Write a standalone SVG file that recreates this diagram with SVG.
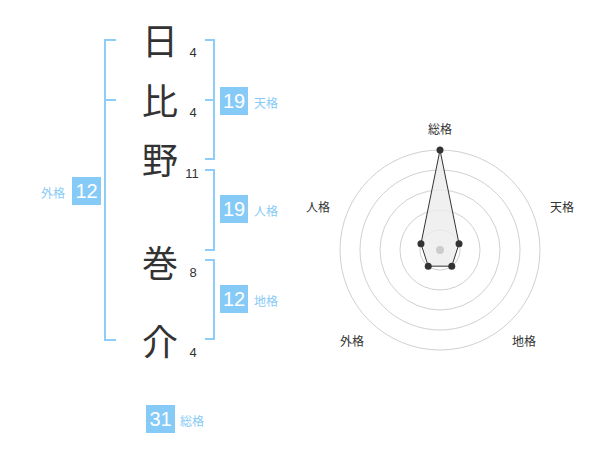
<svg xmlns="http://www.w3.org/2000/svg" width="600" height="470" viewBox="0 0 600 470">
<style>
.k{font-family:"Noto Sans CJK JP","Noto Sans",sans-serif;font-size:36px;fill:#333;text-anchor:middle}
.n{font-family:"Liberation Sans",Arial,sans-serif;font-size:13px;fill:#333;text-anchor:middle}
.br{fill:none;stroke:#8dcdf8;stroke-width:2}
.bx{fill:#86caf7}
.bn{font-family:"Liberation Sans",Arial,sans-serif;font-size:20px;fill:#fff;text-anchor:middle}
.lb{font-family:"Noto Sans CJK JP",sans-serif;font-size:12px;fill:#86caf7}
.rl{font-family:"Noto Sans CJK JP",sans-serif;font-size:12px;fill:#333;text-anchor:middle}
.ring{fill:none;stroke:#d0d0d0;stroke-width:1}
</style>
<rect width="600" height="470" fill="#fff"/>
<g id="chars">
<g id="c1"><text class="k" x="160" y="55">日</text><text class="n" x="193" y="57">4</text></g>
<g id="c2"><text class="k" x="160" y="115">比</text><text class="n" x="193" y="117">4</text></g>
<g id="c3"><text class="k" x="160" y="174">野</text><text class="n" x="192" y="178">11</text></g>
<g id="c4"><text class="k" x="160" y="277">巻</text><text class="n" x="193" y="277">8</text></g>
<g id="c5"><text class="k" x="160" y="356">介</text><text class="n" x="193" y="357">4</text></g>
</g>
<g id="connectors">
<path class="br" d="M116,40 H105 V340 H116 M105,100 H116"/>
<path class="br" d="M205,40 H214 V159 H205 M214,100 H205"/>
<path class="br" d="M205,170 H214 V250 H205"/>
<path class="br" d="M205,260 H214 V339 H205"/>
</g>
<g id="gaikaku"><rect class="bx" x="72" y="177" width="29" height="28"/><text class="bn" x="86.5" y="198">12</text><text class="lb" x="41" y="198">外格</text></g>
<g id="tenkaku"><rect class="bx" x="220" y="87" width="28" height="28"/><text class="bn" x="234" y="108">19</text><text class="lb" x="254" y="108">天格</text></g>
<g id="jinkaku"><rect class="bx" x="220" y="195" width="28" height="28"/><text class="bn" x="234" y="216">19</text><text class="lb" x="254" y="216">人格</text></g>
<g id="chikaku"><rect class="bx" x="220" y="285" width="28" height="28"/><text class="bn" x="234" y="306">12</text><text class="lb" x="254" y="306">地格</text></g>
<g id="soukaku"><rect class="bx" x="146" y="405" width="29" height="28"/><text class="bn" x="160.5" y="426">31</text><text class="lb" x="180" y="426">総格</text></g>
<g id="radar">
<circle class="ring" cx="440" cy="250" r="20"/>
<circle class="ring" cx="440" cy="250" r="40"/>
<circle class="ring" cx="440" cy="250" r="60"/>
<circle class="ring" cx="440" cy="250" r="80"/>
<circle class="ring" cx="440" cy="250" r="100"/>
<polygon points="440,150 459.02,243.82 451.76,266.18 428.24,266.18 420.98,243.82" fill="#ececec" fill-opacity="0.8" stroke="#333" stroke-width="1"/>
<circle cx="440" cy="250" r="4" fill="#ccc"/>
<g fill="#333">
<circle cx="440" cy="150" r="3.5"/><circle cx="459.02" cy="243.82" r="3.5"/><circle cx="451.76" cy="266.18" r="3.5"/><circle cx="428.24" cy="266.18" r="3.5"/><circle cx="420.98" cy="243.82" r="3.5"/>
</g>
<text class="rl" x="440" y="134">総格</text>
<text class="rl" x="562" y="212">天格</text>
<text class="rl" x="524" y="346">地格</text>
<text class="rl" x="352" y="346">外格</text>
<text class="rl" x="318" y="212">人格</text>
</g>
</svg>
